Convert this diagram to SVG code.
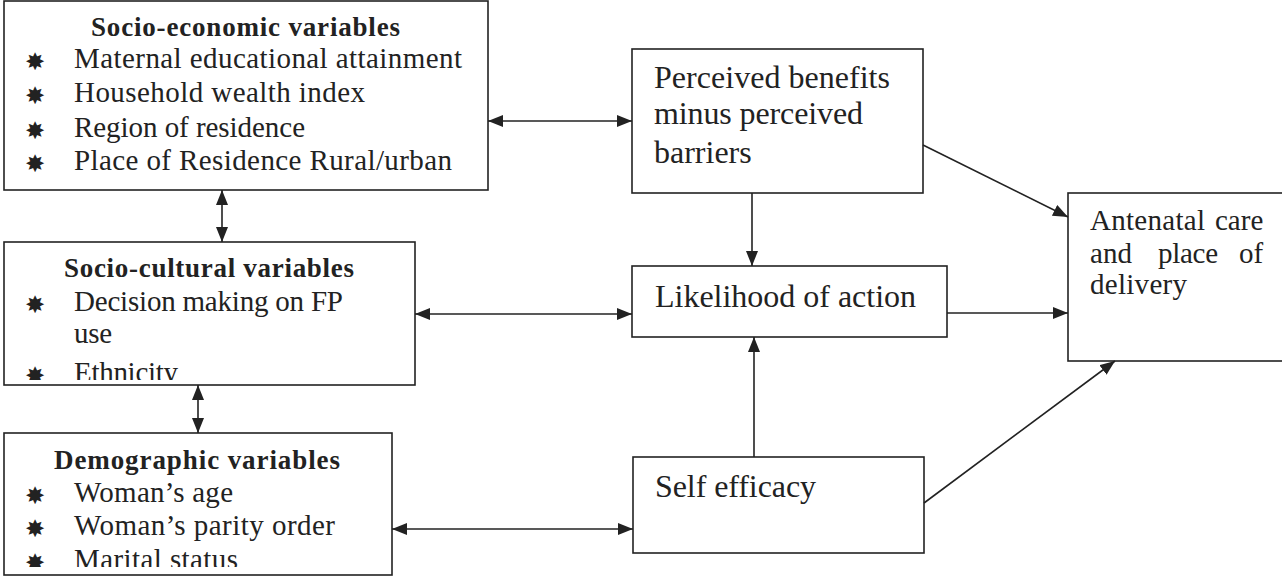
<svg xmlns="http://www.w3.org/2000/svg" width="1282" height="576" viewBox="0 0 1282 576">
<style>
.box{fill:#fff;stroke:#222;stroke-width:1.6}
.pal{font-family:'Liberation Serif',serif;font-size:29px;fill:#222}
.hd{font-family:'Liberation Serif',serif;font-size:27px;font-weight:bold;fill:#222}
.tnr{font-family:'Liberation Serif',serif;font-size:32px;fill:#222}
.star{font-family:'DejaVu Sans',sans-serif;font-size:24px;fill:#222;text-anchor:middle}
.ln{fill:none;stroke:#222;stroke-width:1.6}
</style>
<defs>
<marker id="ah" viewBox="0 0 15 12" refX="15" refY="6" markerWidth="15" markerHeight="12" markerUnits="userSpaceOnUse" orient="auto-start-reverse">
<path d="M0,0 L15,6 L0,12 z" fill="#222"/>
</marker>
<clipPath id="c2"><rect x="4" y="242" width="411" height="138"/></clipPath>
<clipPath id="c3"><rect x="4" y="433" width="388" height="134"/></clipPath>
</defs>

<g id="socio-economic">
<rect class="box" x="4" y="1" width="484" height="189"/>
<text class="hd" x="91" y="36" textLength="309">Socio-economic variables</text>
<text class="star" x="35" y="70">✸</text>
<text class="pal" x="74" y="68" textLength="388">Maternal educational attainment</text>
<text class="star" x="35" y="104">✸</text>
<text class="pal" x="74" y="102" textLength="291">Household wealth index</text>
<text class="star" x="35" y="139">✸</text>
<text class="pal" x="74" y="137" textLength="231">Region of residence</text>
<text class="star" x="35" y="172">✸</text>
<text class="pal" x="74" y="170" textLength="378">Place of Residence Rural/urban</text>
</g>

<g id="socio-cultural">
<rect class="box" x="4" y="242" width="411" height="143"/>
<text class="hd" x="64" y="277" textLength="290">Socio-cultural variables</text>
<text class="star" x="35" y="313">✸</text>
<text class="pal" x="74" y="311" textLength="269">Decision making on FP</text>
<text class="pal" x="74" y="343" textLength="38">use</text>
<g clip-path="url(#c2)">
<text class="star" x="35" y="384">✸</text>
<text class="pal" x="74" y="382" textLength="104">Ethnicity</text>
</g>
</g>

<g id="demographic">
<rect class="box" x="4" y="433" width="388" height="142"/>
<text class="hd" x="54" y="469" textLength="286">Demographic variables</text>
<text class="star" x="35" y="504">✸</text>
<text class="pal" x="74" y="502" textLength="159">Woman’s age</text>
<text class="star" x="35" y="537">✸</text>
<text class="pal" x="74" y="535" textLength="261">Woman’s parity order</text>
<g clip-path="url(#c3)">
<text class="star" x="35" y="571">✸</text>
<text class="pal" x="74" y="569" textLength="164">Marital status</text>
</g>
</g>

<g id="perceived">
<rect class="box" x="632" y="49" width="291" height="144"/>
<text class="tnr" x="654" y="88" textLength="236">Perceived benefits</text>
<text class="tnr" x="654" y="124" textLength="209">minus perceived</text>
<text class="tnr" x="654" y="163">barriers</text>
</g>

<g id="likelihood">
<rect class="box" x="632" y="266" width="315" height="71"/>
<text class="tnr" x="655" y="307" textLength="261">Likelihood of action</text>
</g>

<g id="self-efficacy">
<rect class="box" x="633" y="457" width="291" height="96"/>
<text class="tnr" x="655" y="497" textLength="161">Self efficacy</text>
</g>

<g id="antenatal">
<rect class="box" x="1068" y="193" width="216" height="168"/>
<text class="pal" x="1090" y="230" textLength="115">Antenatal</text>
<text class="pal" x="1215" y="230">care</text>
<text class="pal" x="1090" y="263" textLength="42">and</text>
<text class="pal" x="1158" y="263" textLength="60">place</text>
<text class="pal" x="1239" y="263">of</text>
<text class="pal" x="1090" y="294" textLength="97">delivery</text>
</g>

<g id="connectors">
<line class="ln" x1="222" y1="190" x2="222" y2="242" marker-start="url(#ah)" marker-end="url(#ah)"/>
<line class="ln" x1="198" y1="385" x2="198" y2="433" marker-start="url(#ah)" marker-end="url(#ah)"/>
<line class="ln" x1="488" y1="121" x2="632" y2="121" marker-start="url(#ah)" marker-end="url(#ah)"/>
<line class="ln" x1="415" y1="314" x2="632" y2="314" marker-start="url(#ah)" marker-end="url(#ah)"/>
<line class="ln" x1="392" y1="529" x2="633" y2="529" marker-start="url(#ah)" marker-end="url(#ah)"/>
<line class="ln" x1="752" y1="193" x2="752" y2="266" marker-end="url(#ah)"/>
<line class="ln" x1="754" y1="457" x2="754" y2="337" marker-end="url(#ah)"/>
<line class="ln" x1="923" y1="145" x2="1068" y2="217" marker-end="url(#ah)"/>
<line class="ln" x1="947" y1="313" x2="1068" y2="313" marker-end="url(#ah)"/>
<line class="ln" x1="924" y1="503" x2="1115" y2="361" marker-end="url(#ah)"/>
</g>
</svg>
